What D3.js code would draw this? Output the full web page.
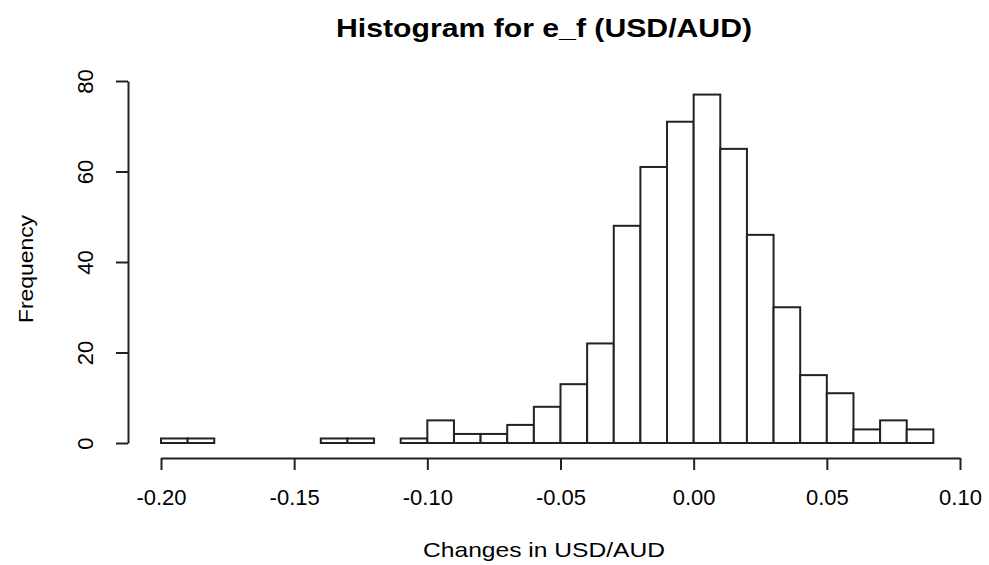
<!DOCTYPE html>
<html><head><meta charset="utf-8">
<script src="https://cdn.jsdelivr.net/npm/d3@7/dist/d3.min.js"></script>
<style>body{margin:0;background:#fff}svg{display:block}text{font-family:"Liberation Sans",Arial,sans-serif;fill:#000}</style>
</head><body><svg id="c" width="989" height="565"></svg>
<script>
const binStarts = [-0.20,-0.19,-0.18,-0.17,-0.16,-0.15,-0.14,-0.13,-0.12,-0.11,-0.10,-0.09,-0.08,-0.07,-0.06,-0.05,-0.04,-0.03,-0.02,-0.01,0.00,0.01,0.02,0.03,0.04,0.05,0.06,0.07,0.08];
const counts = [1,1,0,0,0,0,1,1,0,1,5,2,2,4,8,13,22,48,61,71,77,65,46,30,15,11,3,5,3];
const binWidth = 0.01;
const xTicks = [-0.20,-0.15,-0.10,-0.05,0.00,0.05,0.10];
const yTicks = [0,20,40,60,80];
const title = "Histogram for e_f (USD/AUD)";
const xLabel = "Changes in USD/AUD";
const yLabel = "Frequency";

const svg = d3.select("#c");
const x = d3.scaleLinear().domain([-0.20,0.10]).range([161,960]);
const y = d3.scaleLinear().domain([0,80]).range([443,81]);
const stroke = "#222";
const ff = "Liberation Sans, Arial, sans-serif";

svg.append("g").selectAll("rect").data(binStarts).join("rect")
  .attr("x", d=>x(d)).attr("width", (d)=>x(d+binWidth)-x(d))
  .attr("y", (d,i)=>y(counts[i])).attr("height", (d,i)=>y(0)-y(counts[i]))
  .attr("fill","#fff").attr("stroke",stroke).attr("stroke-width",2);

const xa = svg.append("g").attr("transform","translate(0,458)")
  .call(d3.axisBottom(x).tickValues(xTicks).tickFormat(d3.format(".2f")).tickSize(12).tickSizeOuter(0));
xa.select(".domain").attr("stroke",stroke).attr("stroke-width",2);
xa.selectAll(".tick line").attr("stroke",stroke).attr("stroke-width",2);
xa.selectAll(".tick text").attr("y",31).attr("font-size",22).attr("fill","#000").attr("font-family",ff)
  .text(d=>d3.format(".2f")(d).replace("−","-"));

const ya = svg.append("g").attr("transform","translate(128,0)")
  .call(d3.axisLeft(y).tickValues(yTicks).tickSize(12).tickSizeOuter(0));
ya.select(".domain").attr("stroke",stroke).attr("stroke-width",2);
ya.selectAll(".tick line").attr("stroke",stroke).attr("stroke-width",2);
ya.selectAll(".tick text").attr("x",null).attr("dy",null)
  .attr("transform","translate(-35,0) rotate(-90)").attr("text-anchor","middle")
  .attr("font-size",22).attr("fill","#000").attr("font-family",ff);

svg.append("text").attr("x",544).attr("y",37).attr("text-anchor","middle")
  .attr("font-size",26).attr("font-weight","bold")
  .attr("textLength",416).attr("lengthAdjust","spacingAndGlyphs").text(title);
svg.append("text").attr("x",544).attr("y",557).attr("text-anchor","middle")
  .attr("font-size",21).attr("textLength",242).attr("lengthAdjust","spacingAndGlyphs").text(xLabel);
svg.append("text").attr("transform","translate(33,269) rotate(-90)").attr("text-anchor","middle")
  .attr("font-size",21).attr("textLength",108).attr("lengthAdjust","spacingAndGlyphs").text(yLabel);
</script></body></html>
